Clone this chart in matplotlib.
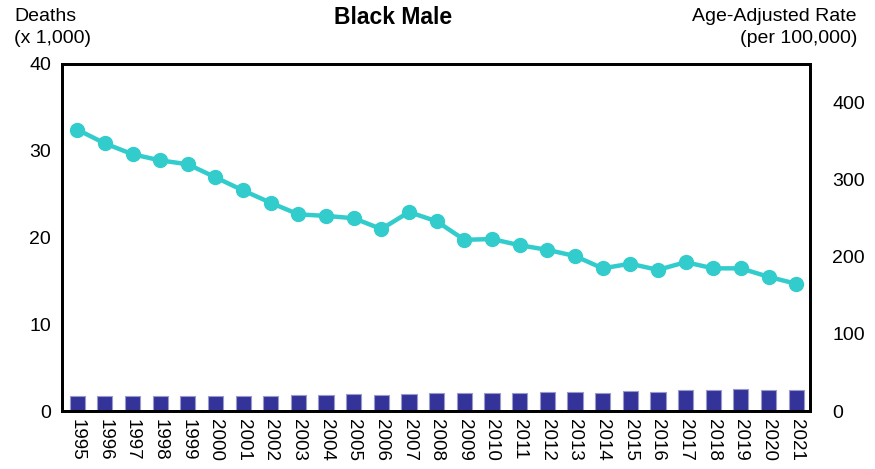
import numpy as np
import matplotlib.pyplot as plt

plt.rcParams['font.family'] = ['Liberation Sans', 'DejaVu Sans']

# data
years = [str(y) for y in range(1995, 2022)]
deaths = [1.75, 1.75, 1.75, 1.75, 1.78, 1.75, 1.75, 1.75, 1.8, 1.9,
          1.95, 1.9, 2.0, 2.05, 2.05, 2.05, 2.1, 2.2, 2.2, 2.1,
          2.35, 2.2, 2.45, 2.45, 2.55, 2.45, 2.45]
rate = [365, 347, 333, 325, 320, 303, 286, 270, 255, 253,
        250, 236, 258, 246, 222, 223, 215, 209, 201, 185,
        191, 183, 193, 185, 185, 174, 165]

fig = plt.figure(figsize=(8.75, 4.69), dpi=100)
ax = fig.add_axes([62/875, 1 - 411/469, 748/875, 347/469])
x = np.arange(len(years))

ax.bar(x, deaths, width=0.55, color='#333399', edgecolor='#9a9acc', linewidth=0.8, zorder=2)
ax.set_ylim(0, 40)
ax.set_yticks([0, 10, 20, 30, 40])
ax.set_xlim(-0.55, 26.5)
ax.set_xticks(x)
ax.set_xticklabels(years, rotation=270)
ax.tick_params(length=0, labelsize=14, pad=8)
ax.tick_params(axis='x', labelsize=13.5, pad=6)

ax2 = ax.twinx()
ax2.plot(x, rate, color='#33CCCC', lw=3.2, marker='o', markersize=10, zorder=3)
ax2.set_ylim(0, 450)
ax2.set_yticks([0, 100, 200, 300, 400])
ax2.tick_params(length=0, labelsize=14, pad=16)

for a in (ax, ax2):
    for s in a.spines.values():
        s.set_linewidth(2)
        s.set_color('black')

fig.text(393/875, 1 - 18/469, 'Black Male', ha='center', va='center', fontsize=16.5, fontweight='bold')
fig.text(14/875, 1 - 8/469, 'Deaths\n(x 1,000)', ha='left', va='top', fontsize=14, linespacing=1.35)
fig.text(857/875, 1 - 8/469, 'Age-Adjusted Rate\n(per 100,000)', ha='right', va='top', fontsize=14,
         linespacing=1.35, multialignment='right')

fig.savefig('out.png', dpi=100)
